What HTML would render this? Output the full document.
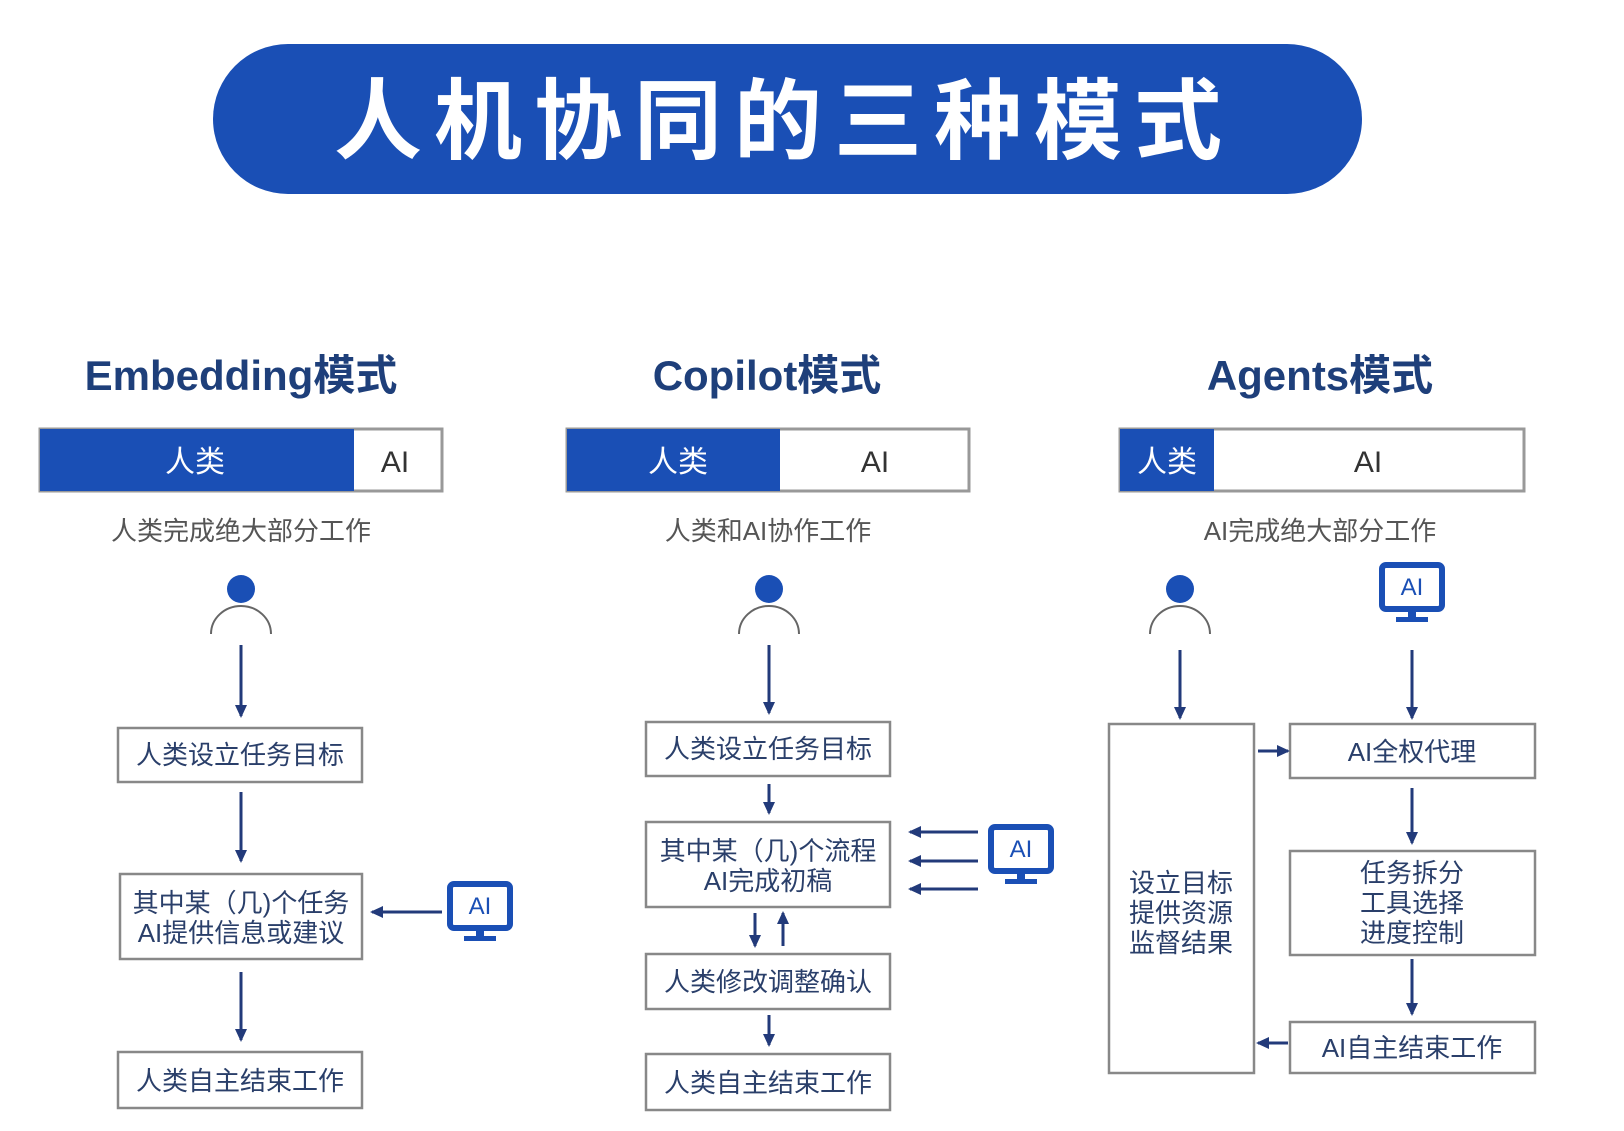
<!DOCTYPE html>
<html><head><meta charset="utf-8"><style>
html,body{margin:0;padding:0;background:#fff;}
svg{display:block;}
text{font-family:"Liberation Sans","Noto Sans CJK SC",sans-serif;}
</style></head><body>
<svg width="1624" height="1131" viewBox="0 0 1624 1131" xmlns="http://www.w3.org/2000/svg">
<defs>
<marker id="ah" markerWidth="14" markerHeight="14" refX="11" refY="7" orient="auto" markerUnits="userSpaceOnUse">
<path d="M0,1 L13,7 L0,13 z" fill="#223a7a"/>
</marker>
<g id="person">
<circle cx="0" cy="0" r="14" fill="#1a4fb5"/>
<path d="M-30,45 A30,28 0 0 1 30,45" fill="none" stroke="#666" stroke-width="2"/>
</g>
<g id="mon">
<rect x="-30" y="-28" width="60" height="44" rx="4" fill="none" stroke="#1a4fb5" stroke-width="6"/>
<rect x="-4" y="16" width="8" height="8" fill="#1a4fb5"/>
<rect x="-16" y="24" width="32" height="5" fill="#1a4fb5"/>
<text x="0" y="2" font-size="24" fill="#1a4fb5" text-anchor="middle">AI</text>
</g>
</defs>

<rect x="213" y="44" width="1149" height="150" rx="75" fill="#1a4fb5"/>
<text x="784" y="152" font-size="88" font-weight="bold" fill="#fff" text-anchor="middle" letter-spacing="12">人机协同的三种模式</text>

<g font-size="42" font-weight="bold" fill="#1e3f7a" text-anchor="middle">
<text x="241" y="390">Embedding模式</text>
<text x="767" y="390">Copilot模式</text>
<text x="1320" y="390">Agents模式</text>
</g>

<g stroke="#999" stroke-width="3">
<rect x="40" y="429" width="402" height="62" fill="#fff"/>
<rect x="567" y="429" width="402" height="62" fill="#fff"/>
<rect x="1120" y="429" width="404" height="62" fill="#fff"/>
</g>
<rect x="40" y="429" width="314" height="62" fill="#1a4fb5"/>
<rect x="567" y="429" width="213" height="62" fill="#1a4fb5"/>
<rect x="1120" y="429" width="94" height="62" fill="#1a4fb5"/>
<g font-size="30" text-anchor="middle">
<text x="195" y="472" fill="#fff">人类</text>
<text x="395" y="472" fill="#333">AI</text>
<text x="678" y="472" fill="#fff">人类</text>
<text x="875" y="472" fill="#333">AI</text>
<text x="1167" y="472" fill="#fff">人类</text>
<text x="1368" y="472" fill="#333">AI</text>
</g>
<g font-size="26" fill="#555" text-anchor="middle">
<text x="241" y="540">人类完成绝大部分工作</text>
<text x="768" y="540">人类和AI协作工作</text>
<text x="1320" y="540">AI完成绝大部分工作</text>
</g>

<use href="#person" x="241" y="589"/>
<use href="#person" x="769" y="589"/>
<use href="#person" x="1180" y="589"/>
<use href="#mon" x="1412" y="593"/>
<use href="#mon" x="480" y="912"/>
<use href="#mon" x="1021" y="855"/>

<g fill="#fff" stroke="#888" stroke-width="2.5">
<rect x="118" y="728" width="244" height="54"/>
<rect x="120" y="874" width="242" height="85"/>
<rect x="118" y="1052" width="244" height="56"/>
<rect x="646" y="722" width="244" height="54"/>
<rect x="646" y="822" width="244" height="85"/>
<rect x="646" y="954" width="244" height="55"/>
<rect x="646" y="1054" width="244" height="56"/>
<rect x="1109" y="724" width="145" height="349"/>
<rect x="1290" y="724" width="245" height="54"/>
<rect x="1290" y="851" width="245" height="104"/>
<rect x="1290" y="1022" width="245" height="51"/>
</g>
<g font-size="26" fill="#2a3f6a" text-anchor="middle">
<text x="240" y="764">人类设立任务目标</text>
<text x="241" y="912">其中某（几)个任务</text>
<text x="241" y="942">AI提供信息或建议</text>
<text x="240" y="1090">人类自主结束工作</text>
<text x="768" y="758">人类设立任务目标</text>
<text x="768" y="860">其中某（几)个流程</text>
<text x="768" y="890">AI完成初稿</text>
<text x="768" y="991">人类修改调整确认</text>
<text x="768" y="1092">人类自主结束工作</text>
<text x="1181" y="892">设立目标</text>
<text x="1181" y="922">提供资源</text>
<text x="1181" y="952">监督结果</text>
<text x="1412" y="761">AI全权代理</text>
<text x="1412" y="882">任务拆分</text>
<text x="1412" y="912">工具选择</text>
<text x="1412" y="942">进度控制</text>
<text x="1412" y="1057">AI自主结束工作</text>
</g>

<g stroke="#223a7a" stroke-width="3" fill="none" marker-end="url(#ah)">
<line x1="241" y1="645" x2="241" y2="716"/>
<line x1="241" y1="792" x2="241" y2="861"/>
<line x1="241" y1="972" x2="241" y2="1040"/>
<line x1="442" y1="912" x2="372" y2="912"/>
<line x1="769" y1="645" x2="769" y2="713"/>
<line x1="769" y1="784" x2="769" y2="813"/>
<line x1="755" y1="913" x2="755" y2="946"/>
<line x1="783" y1="946" x2="783" y2="913"/>
<line x1="769" y1="1015" x2="769" y2="1045"/>
<line x1="978" y1="832" x2="910" y2="832"/>
<line x1="978" y1="861" x2="910" y2="861"/>
<line x1="978" y1="889" x2="910" y2="889"/>
<line x1="1180" y1="650" x2="1180" y2="718"/>
<line x1="1412" y1="650" x2="1412" y2="718"/>
<line x1="1258" y1="751" x2="1288" y2="751"/>
<line x1="1412" y1="788" x2="1412" y2="843"/>
<line x1="1412" y1="959" x2="1412" y2="1014"/>
<line x1="1288" y1="1043" x2="1258" y2="1043"/>
</g>
</svg>
</body></html>
